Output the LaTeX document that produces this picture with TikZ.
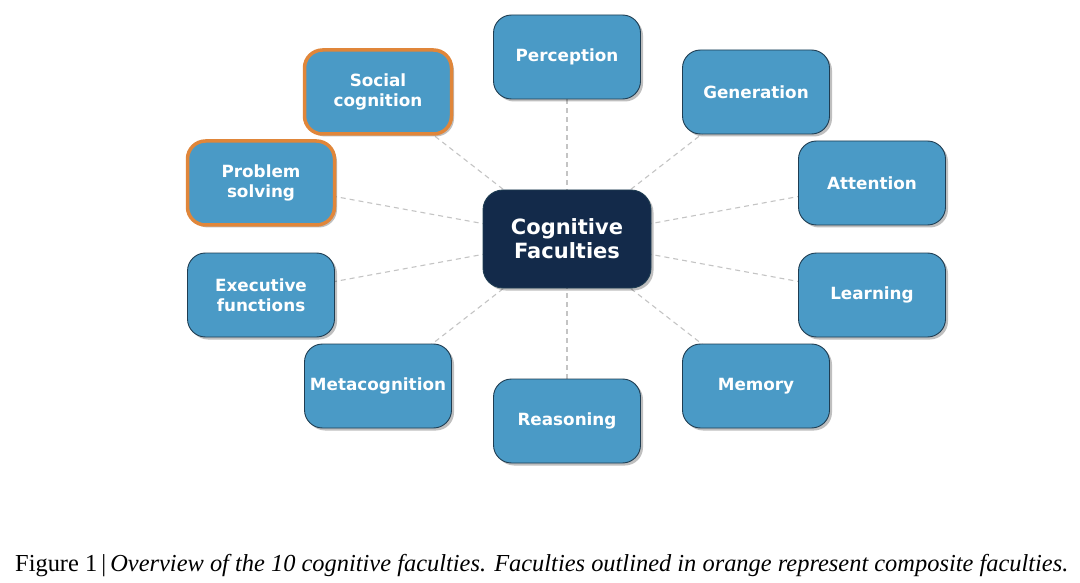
\documentclass[tikz,border=0pt]{standalone}
\usepackage{fontspec}
\setmainfont{DejaVu Sans}
\newfontfamily\capfont{Liberation Serif}
\usetikzlibrary{shadows,backgrounds}
\definecolor{boxblue}{HTML}{4A9AC6}
\definecolor{boxedge}{HTML}{1F3D52}
\definecolor{darknavy}{HTML}{132A4A}
\definecolor{orangeedge}{HTML}{E0863A}
\definecolor{linkgray}{HTML}{C4C4C4}
\tikzset{
  faculty/.style={draw=boxedge, line width=0.9pt, fill=boxblue, rounded corners=18pt,
    minimum width=147pt, minimum height=84pt, inner sep=0pt, align=center,
    text=white, font=\fontsize{16.8}{19.5}\selectfont\bfseries,
    drop shadow={shadow xshift=2.5pt, shadow yshift=-2.5pt, opacity=0.25, fill=black}},
  composite/.style={faculty, draw=orangeedge, line width=3.5pt},
  hub/.style={faculty, fill=darknavy, minimum width=168pt, minimum height=98pt,
    rounded corners=20pt, font=\fontsize{21}{24}\selectfont\bfseries},
  link/.style={draw=linkgray, line width=1.1pt, dash pattern=on 5pt off 4pt}
}
\begin{document}
\begin{tikzpicture}[x=1pt,y=-1pt]
\useasboundingbox (0,0) rectangle (1080,583);
\node[hub] (c) at (567,239) {Cognitive\\Faculties};
\node[faculty] (perc) at (567,57) {Perception};
\node[faculty] (gen) at (756,92) {Generation};
\node[faculty] (att) at (872,183) {Attention};
\node[faculty] (learn) at (872,295) {Learning};
\node[faculty] (mem) at (756,386) {Memory};
\node[faculty] (reas) at (567,421) {Reasoning};
\node[faculty] (meta) at (378,386) {Metacognition};
\node[faculty] (exec) at (261,295) {Executive\\functions};
\node[composite] (prob) at (261,183) {Problem\\solving};
\node[composite] (soc) at (378,92) {Social\\cognition};
\begin{scope}[on background layer]
\fill[white] (0,0) rectangle (1080,583);
\foreach \n in {perc,gen,att,learn,mem,reas,meta,exec,prob,soc}
  \draw[link] (c.center) -- (\n.center);
\end{scope}
\node[anchor=base west, inner sep=0pt] (cap) at (15,571)
  {\resizebox{1053pt}{!}{\capfont Figure 1\,|\,\textit{Overview of the 10 cognitive faculties. Faculties outlined in orange represent composite faculties.}}};
\end{tikzpicture}
\end{document}
